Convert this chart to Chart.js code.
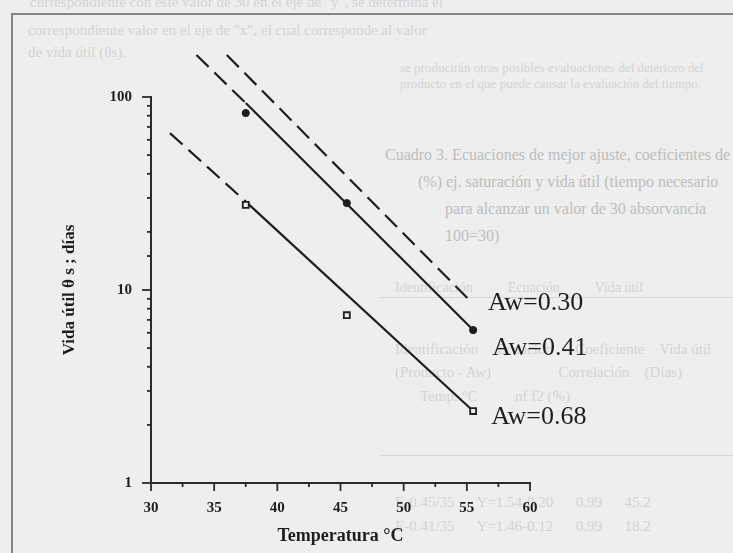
<!DOCTYPE html>
<html lang="es">
<head>
    <meta charset="UTF-8">
    <title>Vida útil vs temperatura</title>
    <script src="https://cdn.jsdelivr.net/npm/chart.js"></script>
    <style>
        html, body { margin: 0; padding: 0; background: #eeeeee; }
        .page { position: relative; width: 733px; height: 553px; overflow: hidden; background: #eeeeee; }
        .frame { position: absolute; left: 11px; top: 13px; width: 740px; height: 560px; border: 2px solid #858585; box-sizing: border-box; }
        .ghost { position: absolute; font-family: "Liberation Serif", serif; color: #d3d3d3; white-space: pre; }
        .ghost.dark { color: #bdbdbd; font-size: 16px; }
        .rule { position: absolute; height: 1px; background: #d6d6d6; }
        #chartBox { position: absolute; left: 0; top: 0; width: 733px; height: 553px; }
    </style>
</head>
<body>
<div class="page">
    <!-- faint text showing through from the other side of the page -->
    <div class="ghost" style="left:30px; top:-6px; font-size:15px;">correspondiente con este valor de 30 en el eje de "y", se determina el</div>
    <div class="ghost" style="left:28px; top:22px; font-size:15px;">correspondiente valor en el eje de "x", el cual corresponde al valor</div>
    <div class="ghost" style="left:28px; top:44px; font-size:15px;">de vida útil (θs).</div>
    <div class="ghost" style="left:400px; top:60px; font-size:13px;">se producirán otras posibles evaluaciones del deterioro del</div>
    <div class="ghost" style="left:400px; top:76px; font-size:13px;">producto en el que puede causar la evaluación del tiempo.</div>
    <div class="ghost dark" style="left:385px; top:146px;">Cuadro 3. Ecuaciones de mejor ajuste, coeficientes de</div>
    <div class="ghost dark" style="left:418px; top:173px;">(%) ej. saturación y vida útil (tiempo necesario</div>
    <div class="ghost dark" style="left:445px; top:200px;">para alcanzar un valor de 30 absorvancia</div>
    <div class="ghost dark" style="left:445px; top:227px;">100=30)</div>
    <div class="rule" style="left:380px; top:297px; width:353px;"></div>
    <div class="ghost" style="left:395px; top:280px; font-size:14px;">Identificación          Ecuación          Vida útil</div>
    <div class="ghost" style="left:395px; top:341px; font-size:15px;">Identificación     Ecuación      Coeficiente    Vida útil</div>
    <div class="ghost" style="left:395px; top:364px; font-size:15px;">(Producto - Aw)                  Correlación    (Días)</div>
    <div class="ghost" style="left:420px; top:388px; font-size:15px;">Temp. °C          nf f2 (%)</div>
    <div class="rule" style="left:380px; top:455px; width:353px;"></div>
    <div class="ghost" style="left:395px; top:494px; font-size:15px;">E-0.45/35      Y=1.54-0.20      0.99      45.2</div>
    <div class="ghost" style="left:395px; top:518px; font-size:15px;">E-0.41/35      Y=1.46-0.12      0.99      18.2</div>
    <div class="frame"></div>
    <div id="chartBox"><canvas id="lifeChart" width="733" height="553"></canvas></div>
</div>
<script>
    // ---- data ----
    const xTicks = [30, 35, 40, 45, 50, 55, 60];
    const yTicks = [1, 10, 100];
    const awLabels = ['Aw=0.30', 'Aw=0.41', 'Aw=0.68'];

    // measured points (temperature °C, shelf life in days)
    const tempsMeasured = [37.5, 45.5, 55.5];
    const life041 = [82.6, 28.2, 6.2];
    const life068 = [27.6, 7.4, 2.36];

    // fitted lines: dashed part (extrapolated) and solid part (data range)
    const fit030Temps = [36.0, 55.4];
    const fit030Life = [165, 8.6];
    const fit041DashTemps = [33.6, 37.5];
    const fit041DashLife = [165, 93];
    const fit041Temps = [37.5, 55.5];
    const fit041Life = [93, 6.2];
    const fit068DashTemps = [31.5, 37.5];
    const fit068DashLife = [65, 28.7];
    const fit068Temps = [37.5, 55.5];
    const fit068Life = [28.7, 2.36];

    const pts = (xs, ys) => xs.map((x, i) => ({ x: x, y: ys[i] }));
    const ink = '#1e1e1e';
    const dash = [17, 8];

    function lineSet(xs, ys, dashed, label) {
        return {
            label: label,
            data: pts(xs, ys),
            showLine: true,
            borderColor: ink,
            borderWidth: 2.2,
            borderDash: dashed ? dash : [],
            pointRadius: 0,
            clip: false,
            order: 2
        };
    }

    // tick marks and curve labels
    const marksPlugin = {
        id: 'marks',
        afterDraw(chart) {
            const ctx = chart.ctx;
            const xs = chart.scales.x, ys = chart.scales.y;
            const area = chart.chartArea;
            ctx.save();
            ctx.strokeStyle = '#2a2a2a';
            ctx.lineWidth = 1.8;
            ys.ticks.forEach(t => {
                const y = ys.getPixelForValue(t.value);
                const major = yTicks.includes(t.value);
                ctx.beginPath();
                ctx.moveTo(area.left - (major ? 9 : 4), y);
                ctx.lineTo(area.left, y);
                ctx.stroke();
            });
            xs.ticks.forEach(t => {
                const x = xs.getPixelForValue(t.value);
                const major = xTicks.includes(t.value);
                ctx.beginPath();
                ctx.moveTo(x, area.bottom);
                ctx.lineTo(x, area.bottom + (major ? 8 : 4));
                ctx.stroke();
            });

            // curve labels next to the end of each fitted line
            const ends = [
                [fit030Temps[1], fit030Life[1], 16, 1],
                [fit041Temps[1], fit041Life[1], 19, 18],
                [fit068Temps[1], fit068Life[1], 18, 6]
            ];
            ctx.fillStyle = ink;
            ctx.font = '26px "Liberation Serif"';
            ctx.textBaseline = 'middle';
            ctx.textAlign = 'left';
            ends.forEach((e, i) => {
                const px = xs.getPixelForValue(e[0]);
                const py = ys.getPixelForValue(e[1]);
                ctx.fillText(awLabels[i], px + e[2], py + e[3]);
            });
            ctx.restore();
        }
    };

    const ctx = document.getElementById('lifeChart').getContext('2d');
    new Chart(ctx, {
        type: 'scatter',
        data: {
            datasets: [
                lineSet(fit030Temps, fit030Life, true, 'Aw=0.30'),
                lineSet(fit041DashTemps, fit041DashLife, true, 'Aw=0.41 ext'),
                lineSet(fit041Temps, fit041Life, false, 'Aw=0.41'),
                lineSet(fit068DashTemps, fit068DashLife, true, 'Aw=0.68 ext'),
                lineSet(fit068Temps, fit068Life, false, 'Aw=0.68'),
                {
                    label: 'Aw=0.41 datos',
                    data: pts(tempsMeasured, life041),
                    pointStyle: 'circle',
                    pointRadius: 3.6,
                    backgroundColor: ink,
                    borderColor: ink,
                    clip: false,
                    order: 1
                },
                {
                    label: 'Aw=0.68 datos',
                    data: pts(tempsMeasured, life068),
                    pointStyle: 'rect',
                    pointRadius: 4.2,
                    borderWidth: 1.8,
                    backgroundColor: '#eeeeee',
                    borderColor: ink,
                    clip: false,
                    order: 1
                }
            ]
        },
        options: {
            responsive: false,
            animation: false,
            layout: { padding: { top: 97, right: 203, bottom: 4, left: 55 } },
            plugins: {
                legend: { display: false },
                tooltip: { enabled: false }
            },
            scales: {
                x: {
                    type: 'linear',
                    min: 30,
                    max: 60,
                    afterFit: s => { s.height = 66; },
                    grid: { display: false, drawTicks: false },
                    border: { display: true, color: '#2a2a2a', width: 2 },
                    ticks: {
                        stepSize: 2.5,
                        padding: 16,
                        color: ink,
                        font: { family: 'Liberation Serif', size: 15, weight: 'bold' },
                        maxRotation: 0,
                        autoSkip: false,
                        callback: v => xTicks.includes(v) ? String(v) : ''
                    },
                    title: {
                        display: true,
                        text: 'Temperatura °C',
                        color: ink,
                        padding: { top: 0, bottom: 2 },
                        font: { family: 'Liberation Serif', size: 18, weight: 'bold' }
                    }
                },
                y: {
                    type: 'logarithmic',
                    min: 1,
                    max: 100,
                    afterFit: s => { s.width = 96; },
                    grid: { display: false, drawTicks: false },
                    border: { display: true, color: '#2a2a2a', width: 2 },
                    ticks: {
                        padding: 19,
                        color: ink,
                        autoSkip: false,
                        font: { family: 'Liberation Serif', size: 15, weight: 'bold' },
                        callback: v => yTicks.includes(v) ? String(v) : ''
                    },
                    title: {
                        display: true,
                        text: 'Vida útil θ s ; días',
                        color: ink,
                        padding: { top: 4, bottom: 0 },
                        font: { family: 'Liberation Serif', size: 17, weight: 'bold' }
                    }
                }
            }
        },
        plugins: [marksPlugin]
    });
</script>
</body>
</html>
